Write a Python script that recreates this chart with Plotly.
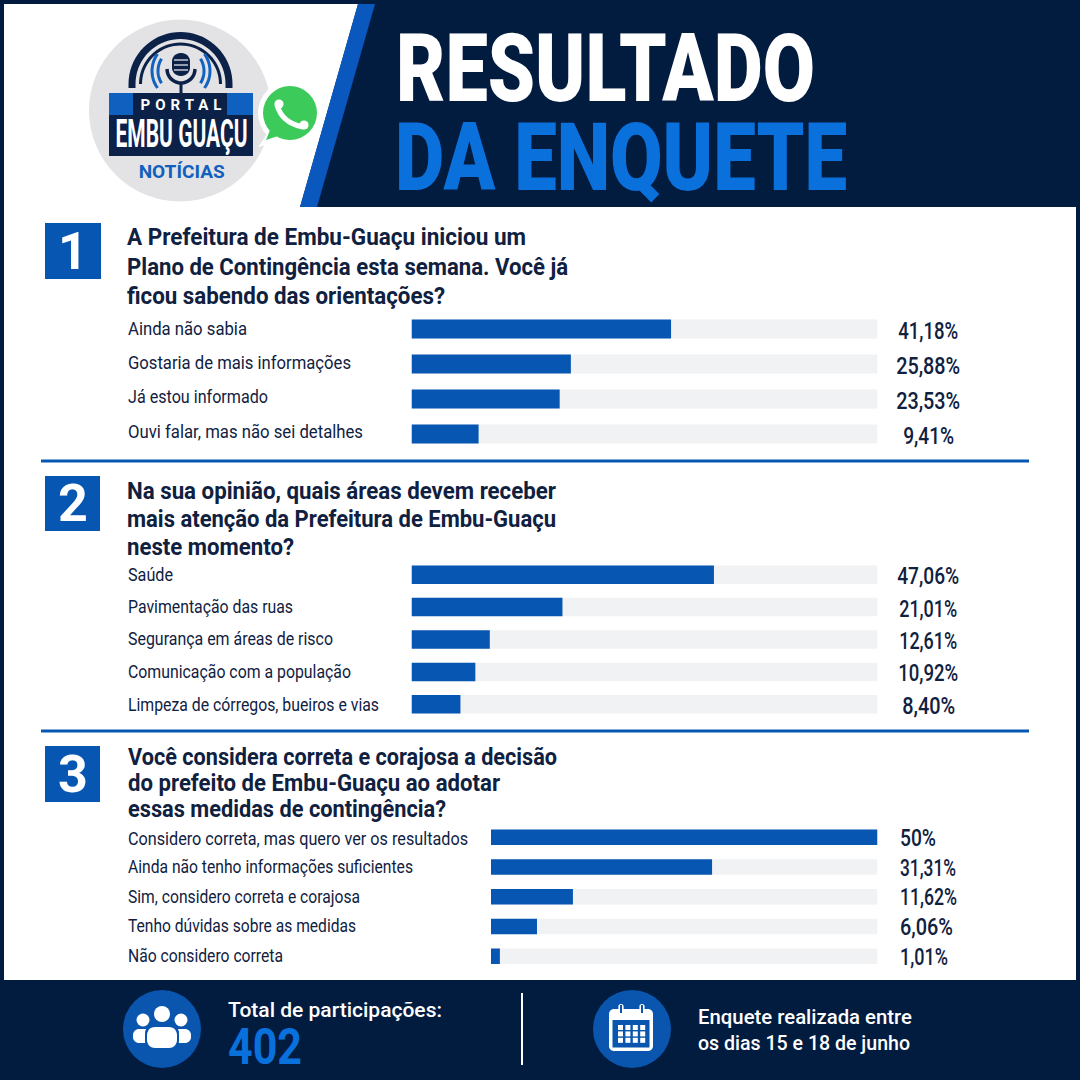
import json
import math
import plotly.graph_objects as go

# ---------- DATA ----------
title_lines = ["RESULTADO", "DA ENQUETE"]

q1_question = ["A Prefeitura de Embu-Guaçu iniciou um",
               "Plano de Contingência esta semana. Você já",
               "ficou sabendo das orientações?"]
q1_labels = ["Ainda não sabia", "Gostaria de mais informações",
             "Já estou informado", "Ouvi falar, mas não sei detalhes"]
q1_pct = ["41,18%", "25,88%", "23,53%", "9,41%"]
q1_fill = [55.7, 34.2, 31.8, 14.4]   # filled share of each track, as drawn

q2_question = ["Na sua opinião, quais áreas devem receber",
               "mais atenção da Prefeitura de Embu-Guaçu",
               "neste momento?"]
q2_labels = ["Saúde", "Pavimentação das ruas", "Segurança em áreas de risco",
             "Comunicação com a população", "Limpeza de córregos, bueiros e vias"]
q2_pct = ["47,06%", "21,01%", "12,61%", "10,92%", "8,40%"]
q2_fill = [64.9, 32.4, 16.8, 13.7, 10.5]

q3_question = ["Você considera correta e corajosa a decisão",
               "do prefeito de Embu-Guaçu ao adotar",
               "essas medidas de contingência?"]
q3_labels = ["Considero correta, mas quero ver os resultados",
             "Ainda não tenho informações suficientes",
             "Sim, considero correta e corajosa",
             "Tenho dúvidas sobre as medidas", "Não considero correta"]
q3_pct = ["50%", "31,31%", "11,62%", "6,06%", "1,01%"]
q3_fill = [100, 57.2, 21.2, 11.9, 2.3]

track_full = 100
total_label = "Total de participações:"
total_value = "402"
period_lines = ["Enquete realizada entre", "os dias 15 e 18 de junho"]

# ---------- STYLE ----------
NAVY = "#021c40"
BLUE = "#0757b2"
BRIGHT = "#0a70dc"
INK = "#10213f"
TRACK = "#f1f2f4"
FONT = "Roboto"
W = H = 1080

# widths (px) the reference's condensed lettering occupies; applied with SVG textLength
text_widths = {
    "RESULTADO": 419, "DA ENQUETE": 452, "EMBU GUAÇU": 132, "PORTAL": 81, "NOTÍCIAS": 86,
    q1_question[0]: 399, q1_question[1]: 441, q1_question[2]: 318,
    q2_question[0]: 429, q2_question[1]: 429, q2_question[2]: 167,
    q3_question[0]: 429, q3_question[1]: 372, q3_question[2]: 318,
    "Ainda não sabia": 119, "Gostaria de mais informações": 223, "Já estou informado": 140,
    "Ouvi falar, mas não sei detalhes": 235,
    "Saúde": 45, "Pavimentação das ruas": 165, "Segurança em áreas de risco": 205,
    "Comunicação com a população": 223, "Limpeza de córregos, bueiros e vias": 251,
    q3_labels[0]: 340, q3_labels[1]: 285, q3_labels[2]: 232, q3_labels[3]: 228, q3_labels[4]: 155,
    "41,18%": 60, "25,88%": 64, "23,53%": 64, "9,41%": 51,
    "47,06%": 62, "21,01%": 58, "12,61%": 58, "10,92%": 60, "8,40%": 53,
    "50%": 36, "31,31%": 56, "11,62%": 57, "6,06%": 53, "1,01%": 48,
    total_label: 214, total_value: 74, period_lines[0]: 214, period_lines[1]: 212,
}

px = lambda x: x / W
py = lambda y: 1 - y / H


def pth(points, close=True):
    s = "M " + " L ".join(f"{px(x):.5f} {py(y):.5f}" for x, y in points)
    return s + (" Z" if close else "")


shapes = []


def poly(points, color):
    shapes.append(dict(type="path", path=pth(points), xref="paper", yref="paper", layer="below",
                       fillcolor=color, line=dict(width=0)))


def line(points, color, width):
    shapes.append(dict(type="path", path=pth(points, False), xref="paper", yref="paper", layer="below",
                       line=dict(color=color, width=width)))


def rect(x0, y0, x1, y1, color):
    poly([(x0, y0), (x1, y0), (x1, y1), (x0, y1)], color)


def circle(cx, cy, r, color):
    shapes.append(dict(type="circle", xref="paper", yref="paper", layer="below",
                       x0=px(cx - r), x1=px(cx + r), y0=py(cy + r), y1=py(cy - r),
                       fillcolor=color, line=dict(width=0)))


def arc(cx, cy, r, a0, a1, n=36):
    return [(cx + r * math.cos(math.radians(a0 + (a1 - a0) * i / n)),
             cy - r * math.sin(math.radians(a0 + (a1 - a0) * i / n))) for i in range(n + 1)]


def rrect(x0, y0, x1, y1, r, color):
    pts = (arc(x1 - r, y0 + r, r, 90, 0, 8) + arc(x1 - r, y1 - r, r, 0, -90, 8)
           + arc(x0 + r, y1 - r, r, -90, -180, 8) + arc(x0 + r, y0 + r, r, 180, 90, 8))
    poly(pts, color)


annotations = []


def text(x, y, s, size, color, anchor="left", weight=400):
    annotations.append(dict(xref="paper", yref="paper", x=px(x), y=py(y), text=s,
                            showarrow=False, xanchor=anchor, yanchor="middle", align=anchor,
                            font=dict(size=size, color=color, family=FONT, weight=weight), borderpad=0))


# ---------- BACKDROP ----------
rect(4, 207, 1076, 980, "#ffffff")
poly([(4, 4), (358, 4), (300, 207), (4, 207)], "#ffffff")
poly([(358, 4), (375, 4), (317, 207), (300, 207)], "#0a58be")

# logo
circle(180, 110.5, 91, "#e3e3e5")
poly(arc(180.5, 84, 52, 0, 180) + arc(180.5, 84, 45, 180, 0), "#0b2148")
poly(arc(180.5, 84, 41.5, 0, 180) + arc(180.5, 84, 38.5, 180, 0), "#0b2148")
rect(128.5, 84, 135.5, 88, "#0b2148")
rect(225.5, 84, 232.5, 88, "#0b2148")
for r, (a, b) in [(23, (32, -32)), (29, (36, -36))]:
    line(arc(181, 71, r, a, b, 12), "#1262c0", 3)
    line(arc(181, 71, r, 180 - a, 180 - b, 12), "#1262c0", 3)
line(arc(181, 69, 14, 0, -180, 16), "#0b2148", 3.5)
rrect(172, 53, 190, 76, 8.5, "#0b2148")
for y in (60, 65, 70):
    line([(174, y), (188, y)], "#e3e3e5", 1.3)
rect(179.5, 83, 182.5, 93, "#0b2148")
rect(109, 93, 133, 115, "#1060c0")
rect(227, 93, 253, 115, "#1060c0")
rect(133, 93, 227, 115, "#0b2148")
rect(109, 115, 253, 156, "#0b2148")

# WhatsApp badge
circle(290, 113, 32, "#ffffff")
poly([(270, 130), (258, 147), (285, 140)], "#ffffff")
poly([(272, 125), (266, 140), (284, 134)], "#3ccb5a")
circle(290, 113, 27, "#3ccb5a")
shapes.append(dict(type="path", xref="paper", yref="paper", layer="below", line=dict(color="#ffffff", width=5),
                   path=f"M {px(277)} {py(105)} Q {px(282)} {py(123)} {px(303)} {py(127)}"))
circle(279, 104, 4.6, "#ffffff")
circle(304, 125, 4.6, "#ffffff")

# section badges and rules
rect(45, 223, 101, 279, BLUE)
rect(45, 476, 100, 531, BLUE)
rect(45, 746, 100, 802, BLUE)
rect(41, 459.5, 1029, 462.5, BLUE)
rect(41, 729.5, 1029, 732.5, BLUE)

# footer icons
circle(162, 1029, 39, "#0a55ae")
circle(632, 1029, 39, "#0a55ae")
rect(521, 993, 523, 1065, "#ffffff")
circle(143, 1020, 6.5, "#ffffff")
circle(181, 1020, 6.5, "#ffffff")
rrect(133, 1029, 152, 1043, 6, "#ffffff")
rrect(172, 1029, 191, 1043, 6, "#ffffff")
circle(162, 1015, 8.5, "#0a55ae")
circle(162, 1014, 8, "#ffffff")
rrect(145, 1025, 179, 1049, 8, "#0a55ae")
rrect(147, 1027, 177, 1048, 8, "#ffffff")
rrect(609, 1009, 653, 1051, 5, "#ffffff")
rect(612.5, 1020, 649.5, 1047.5, "#0a55ae")
for x in (621, 642):
    rrect(x - 2.6, 1004, x + 2.6, 1015, 2.5, "#ffffff")
    rect(x - 1, 1005, x + 1, 1013, "#0a55ae")
for row in range(3):
    for col in range(4):
        rect(618 + col * 7.4, 1025 + row * 6.4, 623 + col * 7.4, 1030 + row * 6.4, "#ffffff")

# ---------- TEXT ----------
text(394.5, 68, title_lines[0], 95, "#ffffff", weight=900)
text(393.5, 158, title_lines[1], 95, BRIGHT, weight=900)
text(181, 105, "PORTAL", 15, "#ffffff", "center", 700)
text(181, 134, "EMBU GUAÇU", 38, "#ffffff", "center", 700)
text(181, 172, "NOTÍCIAS", 18, "#1160bd", "center", 700)
text(73, 251, "1", 52, "#ffffff", "center", 700)
text(72.5, 503, "2", 52, "#ffffff", "center", 700)
text(72.5, 774, "3", 52, "#ffffff", "center", 700)
for lines, ys, x in [(q1_question, (238, 267, 296), 125.5),
                     (q2_question, (491, 519, 547), 125.5),
                     (q3_question, (757, 783, 809), 126.5)]:
    for s, y in zip(lines, ys):
        text(x, y, s, 23, INK, weight=700)
text(227, 1010, total_label, 21, "#ffffff", weight=500)
text(227, 1047, total_value, 50, BRIGHT, weight=700)
text(697, 1017, period_lines[0], 20, "#ffffff", weight=500)
text(697, 1043, period_lines[1], 20, "#ffffff", weight=500)

# ---------- CHARTS ----------
fig = go.Figure()
layout_axes = {}
charts = [
    (q1_labels, q1_pct, q1_fill, 411.5, 311.5, 451.5, 19, 125.5, 928, "center", "", [0, 1, 2, 2], -3),
    (q2_labels, q2_pct, q2_fill, 411.5, 558.5, 720.5, 18.5, 125.5, 928, "center", "2", [0, 1, 1, 0, 0], -2),
    (q3_labels, q3_pct, q3_fill, 491, 822.5, 971, 15.5, 126, 898, "left", "3", [-1, 1, 0, 1, 1], -1),
]
for labels, pct, fill, left, top, bottom, thick, lx, vx, vanchor, n, lab_shift, val_shift in charts:
    xa, ya = "x" + n, "y" + n
    step = (bottom - top) / len(labels)
    fig.add_trace(go.Bar(y=labels, x=[track_full] * len(labels), orientation="h", xaxis=xa, yaxis=ya,
                         marker=dict(color=TRACK, line=dict(width=0)), width=thick / step, hoverinfo="skip"))
    fig.add_trace(go.Bar(y=labels, x=fill, orientation="h", xaxis=xa, yaxis=ya,
                         marker=dict(color=BLUE, line=dict(width=0)), width=thick / step, hoverinfo="skip"))
    layout_axes["xaxis" + n] = dict(domain=[px(left), px(877.5)], range=[0, track_full], visible=False,
                                    anchor=ya, fixedrange=True)
    layout_axes["yaxis" + n] = dict(domain=[py(bottom), py(top)], type="category", categoryorder="array",
                                    categoryarray=labels, range=[len(labels) - 0.5, -0.5], visible=False,
                                    anchor=xa, fixedrange=True)
    for lab, p, ls in zip(labels, pct, lab_shift):
        annotations.append(dict(xref="paper", yref=ya, x=px(lx), y=lab, text=lab, showarrow=False,
                                xanchor="left", yanchor="middle", align="left", yshift=ls,
                                font=dict(size=18, color=INK, family=FONT, weight=400)))
        annotations.append(dict(xref="paper", yref=ya, x=px(vx), y=lab, text=p, showarrow=False,
                                xanchor=vanchor, yanchor="middle", align=vanchor, yshift=val_shift,
                                font=dict(size=23, color=INK, family=FONT, weight=500)))

fig.update_layout(width=W, height=H, margin=dict(l=0, r=0, t=0, b=0, pad=0), autosize=False,
                  paper_bgcolor=NAVY, plot_bgcolor="rgba(0,0,0,0)", barmode="overlay", showlegend=False,
                  shapes=shapes, annotations=annotations, **layout_axes)

squeeze = """
document.body.style.margin='0';document.body.style.overflow='hidden';
var widths = %s;
document.querySelectorAll('.annotation-text').forEach(function(t){
  var w = widths[t.textContent];
  if (w) {
    t.setAttribute('lengthAdjust', t.textContent === 'PORTAL' ? 'spacing' : 'spacingAndGlyphs');
    t.setAttribute('textLength', w);
  }
});
""" % json.dumps(text_widths, ensure_ascii=False)
fig.write_html("out.html", post_script=squeeze, config=dict(displayModeBar=False))
